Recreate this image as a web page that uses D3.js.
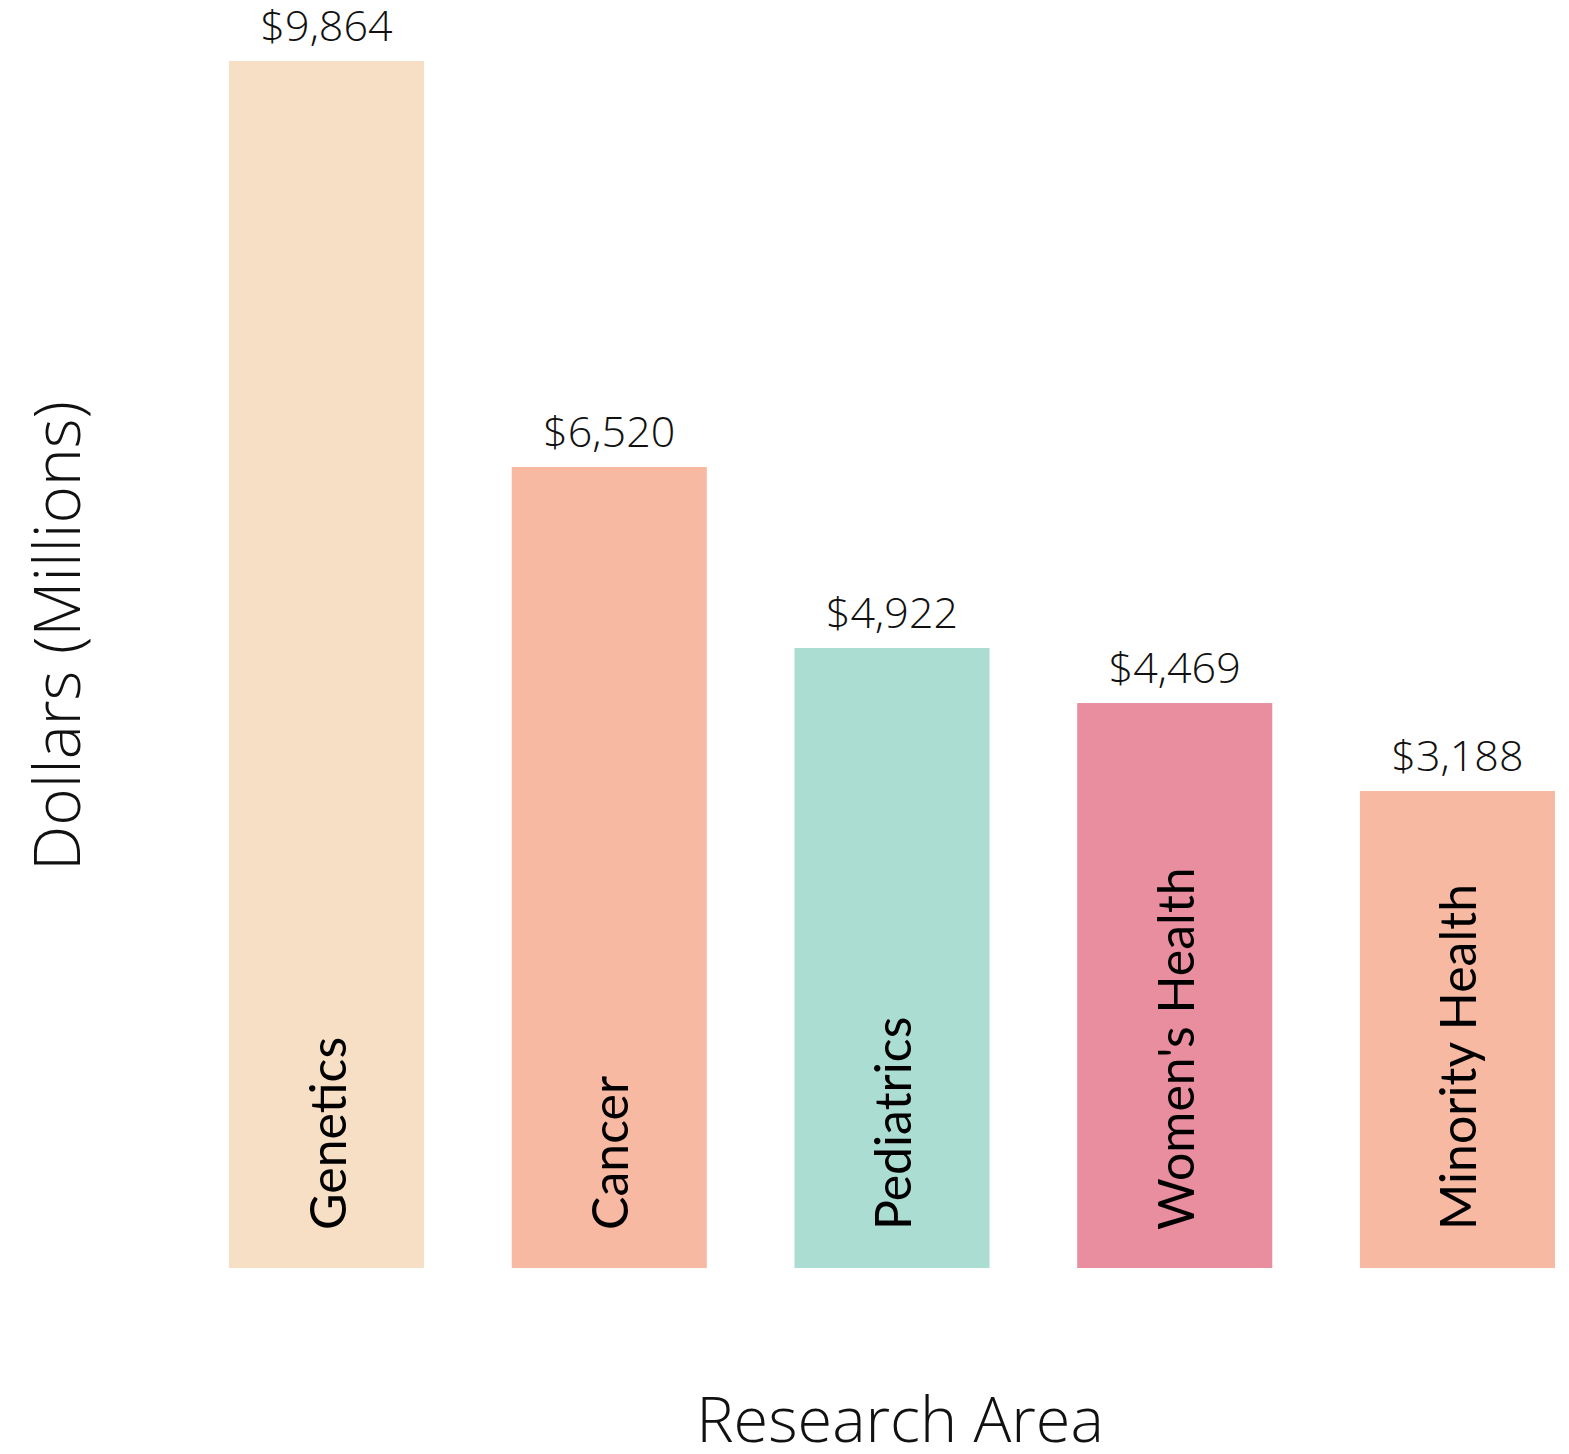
<!DOCTYPE html>
<html>
<head>
<meta charset="utf-8">
<script src="https://cdn.jsdelivr.net/npm/d3@7"></script>
<style>
  html, body { margin: 0; padding: 0; background: #fff; }
  svg { display: block; }
</style>
</head>
<body>
<svg id="chart" width="1569" height="1454"></svg>
<script>
// Data
const categories = ["Genetics", "Cancer", "Pediatrics", "Women's Health", "Minority Health"];
// Amounts printed above the bars (millions of dollars)
const labelValues = [9864, 6520, 4922, 4469, 3188];
// Bar heights as drawn in the picture, in the same units
const barValues = [9864, 6546, 5067, 4617, 3898];
const colors = ["#F7DFC5", "#F8B9A3", "#ACDDD3", "#E88E9F", "#F8B9A3"];
const yTitle = "Dollars (Millions)";
const xTitle = "Research Area";

const svg = d3.select("#chart");
const baseY = 1268, topY = 61;

const x = d3.scaleBand()
  .domain(categories)
  .range([229, 1555])
  .paddingInner(0.31)
  .paddingOuter(0);

const y = d3.scaleLinear()
  .domain([0, d3.max(barValues)])
  .range([baseY, topY]);

const data = categories.map((c, i) => ({ cat: c, bar: barValues[i], label: labelValues[i], color: colors[i] }));

const fmt = d3.format(",");

// Bars
svg.selectAll("rect.bar")
  .data(data)
  .join("rect")
  .attr("class", "bar")
  .attr("x", d => x(d.cat))
  .attr("y", d => y(d.bar))
  .attr("width", x.bandwidth())
  .attr("height", d => y(0) - y(d.bar))
  .attr("fill", d => d.color);

// Value labels
svg.selectAll("text.val")
  .data(data)
  .join("text")
  .attr("class", "val")
  .attr("x", d => x(d.cat) + x.bandwidth() / 2)
  .attr("y", d => y(d.bar) - 20)
  .attr("text-anchor", "middle")
  .attr("font-family", "'Open Sans', sans-serif")
  .attr("font-weight", 300)
  .attr("font-size", 43)
  .attr("fill", "#111")
  .text(d => "$" + fmt(d.label));

// Category labels inside bars (rotated)
svg.selectAll("text.cat")
  .data(data)
  .join("text")
  .attr("class", "cat")
  .attr("transform", d => `translate(${x(d.cat) + x.bandwidth() / 2 + 19},${baseY - 38}) rotate(-90)`)
  .attr("text-anchor", "start")
  .attr("font-family", "Lato, sans-serif")
  .attr("font-size", 50)
  .attr("fill", "#000")
  .text(d => d.cat);

// Y axis title
svg.append("text")
  .attr("transform", `translate(80,636) rotate(-90)`)
  .attr("text-anchor", "middle")
  .attr("font-family", "'Open Sans', sans-serif")
  .attr("font-weight", 300)
  .attr("font-size", 64)
  .attr("fill", "#111")
  .text(yTitle);

// X axis title
svg.append("text")
  .attr("x", 900)
  .attr("y", 1442)
  .attr("text-anchor", "middle")
  .attr("font-family", "'Open Sans', sans-serif")
  .attr("font-weight", 300)
  .attr("font-size", 63)
  .attr("fill", "#111")
  .text(xTitle);
</script>
</body>
</html>
